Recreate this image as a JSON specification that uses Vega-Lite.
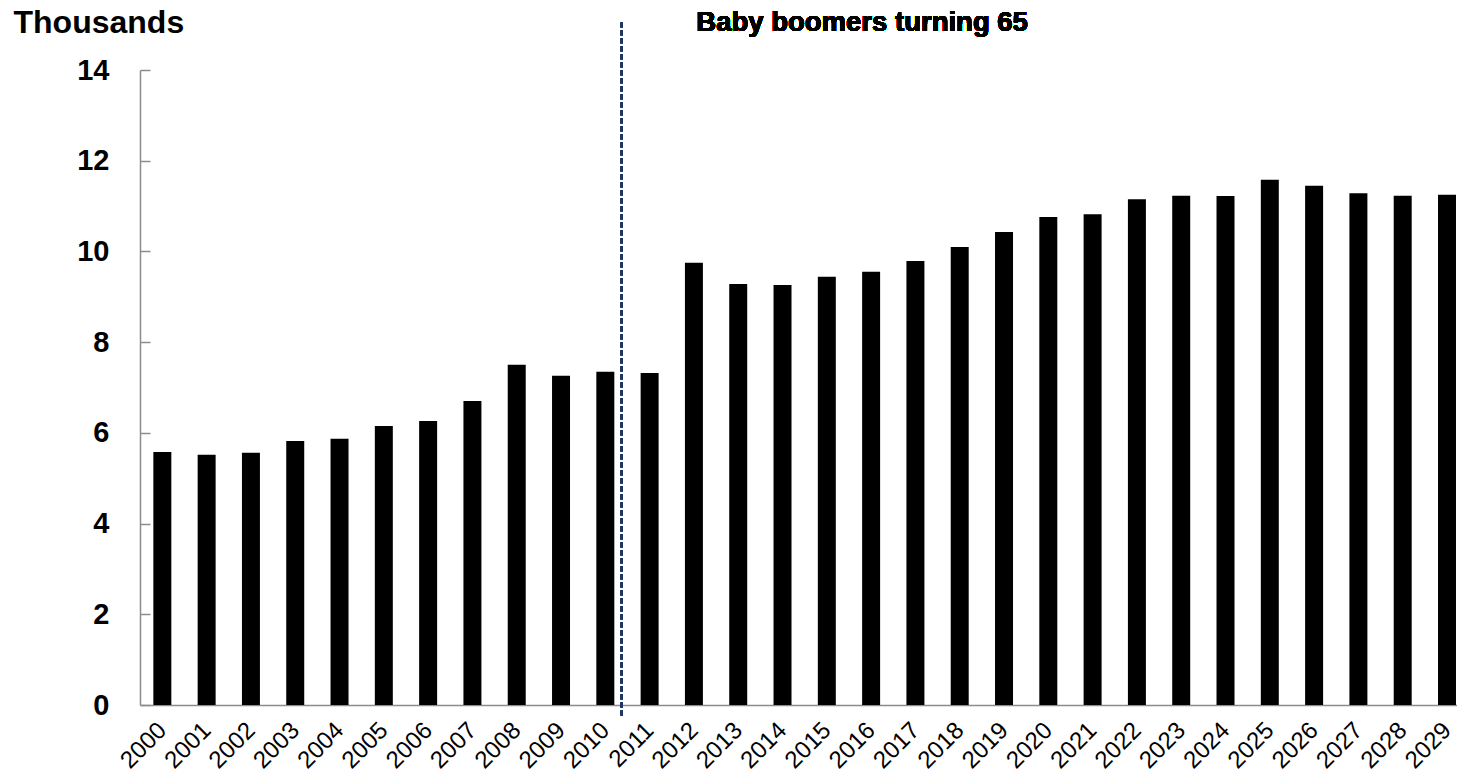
{
  "$schema": "https://vega.github.io/schema/vega-lite/v6.json",
  "width": 1317,
  "height": 635,
  "autosize": {"type": "none"},
  "padding": {"left": 140, "top": 70, "right": 0, "bottom": 71},
  "background": "white",
  "config": {"view": {"stroke": null}, "font": "Liberation Sans"},
  "data": {
    "values": [
      {"year": "2000", "value": 5.58},
      {"year": "2001", "value": 5.52},
      {"year": "2002", "value": 5.56},
      {"year": "2003", "value": 5.82},
      {"year": "2004", "value": 5.87},
      {"year": "2005", "value": 6.15},
      {"year": "2006", "value": 6.26},
      {"year": "2007", "value": 6.70},
      {"year": "2008", "value": 7.50},
      {"year": "2009", "value": 7.26},
      {"year": "2010", "value": 7.35},
      {"year": "2011", "value": 7.32},
      {"year": "2012", "value": 9.75},
      {"year": "2013", "value": 9.28},
      {"year": "2014", "value": 9.26},
      {"year": "2015", "value": 9.44},
      {"year": "2016", "value": 9.55},
      {"year": "2017", "value": 9.79},
      {"year": "2018", "value": 10.10},
      {"year": "2019", "value": 10.43},
      {"year": "2020", "value": 10.76},
      {"year": "2021", "value": 10.82},
      {"year": "2022", "value": 11.15},
      {"year": "2023", "value": 11.23},
      {"year": "2024", "value": 11.22},
      {"year": "2025", "value": 11.58},
      {"year": "2026", "value": 11.45},
      {"year": "2027", "value": 11.28},
      {"year": "2028", "value": 11.23},
      {"year": "2029", "value": 11.25}
    ]
  },
  "layer": [
    {
      "mark": {"type": "bar", "color": "black"},
      "encoding": {
        "x": {
          "field": "year",
          "type": "ordinal",
          "scale": {"paddingInner": 0.594, "paddingOuter": 0.162, "align": 0.93},
          "axis": {
            "title": null,
            "labelAngle": -45,
            "labelFontSize": 24,
            "labelColor": "black",
            "ticks": false,
            "domainColor": "#8c8c8c",
            "domainWidth": 1.5,
            "labelPadding": 13,
            "labelOffset": -8,
            "labelOverlap": false
          }
        },
        "y": {
          "field": "value",
          "type": "quantitative",
          "scale": {"domain": [0, 14]},
          "axis": {
            "title": "Thousands",
            "titleAngle": 0,
            "titleAlign": "left",
            "titleBaseline": "middle",
            "titleX": -127,
            "titleY": -48,
            "titleFontSize": 32,
            "titleFontWeight": "bold",
            "titleColor": "black",
            "values": [0, 2, 4, 6, 8, 10, 12, 14],
            "labelFontSize": 29,
            "labelFontWeight": "bold",
            "labelColor": "black",
            "grid": false,
            "domainColor": "#8c8c8c",
            "domainWidth": 1.5,
            "tickColor": "#8c8c8c",
            "tickWidth": 1.5,
            "tickSize": -10,
            "labelPadding": 41
          }
        }
      }
    },
    {
      "mark": {"type": "rule", "strokeDash": [5, 3], "color": "#1f3864", "strokeWidth": 1.5, "xOffset": -19},
      "encoding": {
        "x": {"datum": "2011", "type": "ordinal", "bandPosition": 0},
        "y": {"datum": 15.05, "type": "quantitative"},
        "y2": {"datum": -0.3}
      }
    },
    {
      "mark": {"type": "text", "fontSize": 27.5, "fontWeight": "bold", "xOffset": -9, "baseline": "middle", "color": "black"},
      "encoding": {
        "x": {"datum": "2016", "type": "ordinal", "bandPosition": 0.5},
        "y": {"datum": 15.04, "type": "quantitative"},
        "text": {"value": "Baby boomers turning 65"}
      }
    }
  ]
}
